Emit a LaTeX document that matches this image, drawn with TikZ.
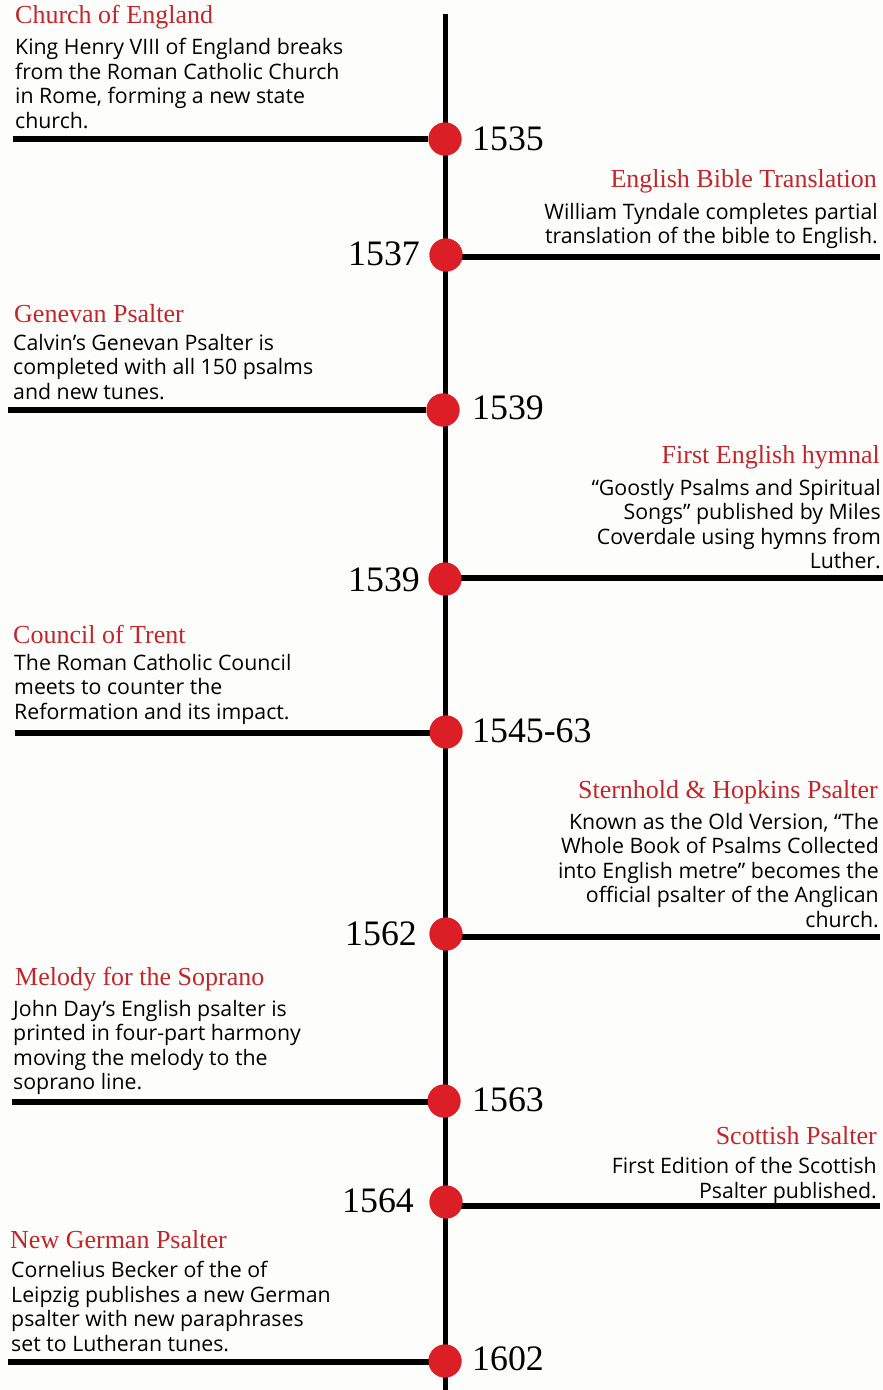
\documentclass[tikz,border=0pt]{standalone}
\usepackage{fontspec}
\setmainfont{Open Sans}
\newfontfamily\serifr{Liberation Serif}
\definecolor{tred}{HTML}{C0272D}
\definecolor{dotred}{HTML}{DC1F26}
\definecolor{bg}{HTML}{FDFDFB}
\begin{document}
\begin{tikzpicture}[x=1pt,y=-1pt,
  lineb/.style={line width=5.8pt},
  evdot/.style={circle,fill=dotred,minimum size=33pt,inner sep=0pt},
  ttl/.style={inner sep=0pt,text=tred,font=\serifr\fontsize{26}{28}\selectfont},
  bodyl/.style={inner sep=0pt,align=left,font=\fontsize{21.3}{24.5}\selectfont},
  bodyr/.style={inner sep=0pt,align=right,font=\fontsize{21.3}{24.5}\selectfont},
  yr/.style={inner sep=0pt,font=\serifr\fontsize{35.8}{38}\selectfont}]
\fill[bg] (0,0) rectangle (883,1390);
\useasboundingbox (0,0) rectangle (883,1390);
\coordinate (top) at (445.5,14);
\coordinate (bot) at (445.5,1390);
\draw[lineb] (top) -- (bot);
% 1535
\node[evdot] (d1) at (445,139) {};
\coordinate (e1) at (13,139);
\draw[lineb] (e1) -- (d1);
\fill[dotred] (d1) circle (16.5);
\node[yr,anchor=west] (y1) at (472,139) {1535};
\node[ttl,anchor=west] (t1) at (15,17) {Church of England};
\node[bodyl,anchor=north west] (b1) at (15,38) {King Henry VIII of England breaks\\from the Roman Catholic Church\\in Rome, forming a new state\\church.};
% 1537
\node[evdot] (d2) at (446,255) {};
\coordinate (e2) at (880,257);
\draw[lineb] (d2.center |- e2) -- (e2);
\fill[dotred] (d2) circle (16.5);
\node[yr,anchor=east] (y2) at (420,254) {1537};
\node[ttl,anchor=east] (t2) at (877,181) {English Bible Translation};
\node[bodyr,anchor=north east] (b2) at (878,203) {William Tyndale completes partial\\translation of the bible to English.};
% 1539
\node[evdot] (d3) at (443,410) {};
\coordinate (e3) at (8,410);
\draw[lineb] (e3) -- (d3);
\fill[dotred] (d3) circle (16.5);
\node[yr,anchor=west] (y3) at (472,408) {1539};
\node[ttl,anchor=west] (t3) at (14,314) {Genevan Psalter};
\node[bodyl,anchor=north west] (b3) at (13,334) {Calvin’s Genevan Psalter is\\completed with all 150 psalms\\and new tunes.};
% 1539 b
\node[evdot] (d4) at (445,579) {};
\coordinate (e4) at (883,578);
\draw[lineb] (d4.center |- e4) -- (e4);
\fill[dotred] (d4) circle (16.5);
\node[yr,anchor=east] (y4) at (420,580) {1539};
\node[ttl,anchor=east] (t4) at (880,457) {First English hymnal};
\node[bodyr,anchor=north east] (b4) at (881,479) {“Goostly Psalms and Spiritual\\Songs” published by Miles\\Coverdale using hymns from\\Luther.};
% 1545-63
\node[evdot] (d5) at (446,732) {};
\coordinate (e5) at (15,733);
\draw[lineb] (e5) -- (d5.center |- e5);
\fill[dotred] (d5) circle (16.5);
\node[yr,anchor=west] (y5) at (472,731) {1545-63};
\node[ttl,anchor=west] (t5) at (13,634) {Council of Trent};
\node[bodyl,anchor=north west] (b5) at (14,654) {The Roman Catholic Council\\meets to counter the\\Reformation and its impact.};
% 1562
\node[evdot] (d6) at (446,934) {};
\coordinate (e6) at (880,937);
\draw[lineb] (d6.center |- e6) -- (e6);
\fill[dotred] (d6) circle (16.5);
\node[yr,anchor=east] (y6) at (417,934) {1562};
\node[ttl,anchor=east] (t6) at (878,792) {Sternhold \& Hopkins Psalter};
\node[bodyr,anchor=north east] (b6) at (879,813) {Known as the Old Version, “The\\Whole Book of Psalms Collected\\into English metre” becomes the\\official psalter of the Anglican\\church.};
% 1563
\node[evdot] (d7) at (444,1101) {};
\coordinate (e7) at (12,1102);
\draw[lineb] (e7) -- (d7.center |- e7);
\fill[dotred] (d7) circle (16.5);
\node[yr,anchor=west] (y7) at (472,1100) {1563};
\node[ttl,anchor=west] (t7) at (15,979) {Melody for the Soprano};
\node[bodyl,anchor=north west] (b7) at (13,1000) {John Day’s English psalter is\\printed in four-part harmony\\moving the melody to the\\soprano line.};
% 1564
\node[evdot] (d8) at (446,1202) {};
\coordinate (e8) at (880,1206);
\draw[lineb] (d8.center |- e8) -- (e8);
\fill[dotred] (d8) circle (16.5);
\node[yr,anchor=east] (y8) at (414,1201) {1564};
\node[ttl,anchor=east] (t8) at (877,1136) {Scottish Psalter};
\node[bodyr,anchor=north east] (b8) at (877,1157) {First Edition of the Scottish\\Psalter published.};
% 1602
\node[evdot] (d9) at (445,1361) {};
\coordinate (e9) at (8,1362);
\draw[lineb] (e9) -- (d9.center |- e9);
\fill[dotred] (d9) circle (16.5);
\node[yr,anchor=west] (y9) at (472,1359) {1602};
\node[ttl,anchor=west] (t9) at (10,1240) {New German Psalter};
\node[bodyl,anchor=north west] (b9) at (11,1261) {Cornelius Becker of the of\\Leipzig publishes a new German\\psalter with new paraphrases\\set to Lutheran tunes.};
\end{tikzpicture}
\end{document}
